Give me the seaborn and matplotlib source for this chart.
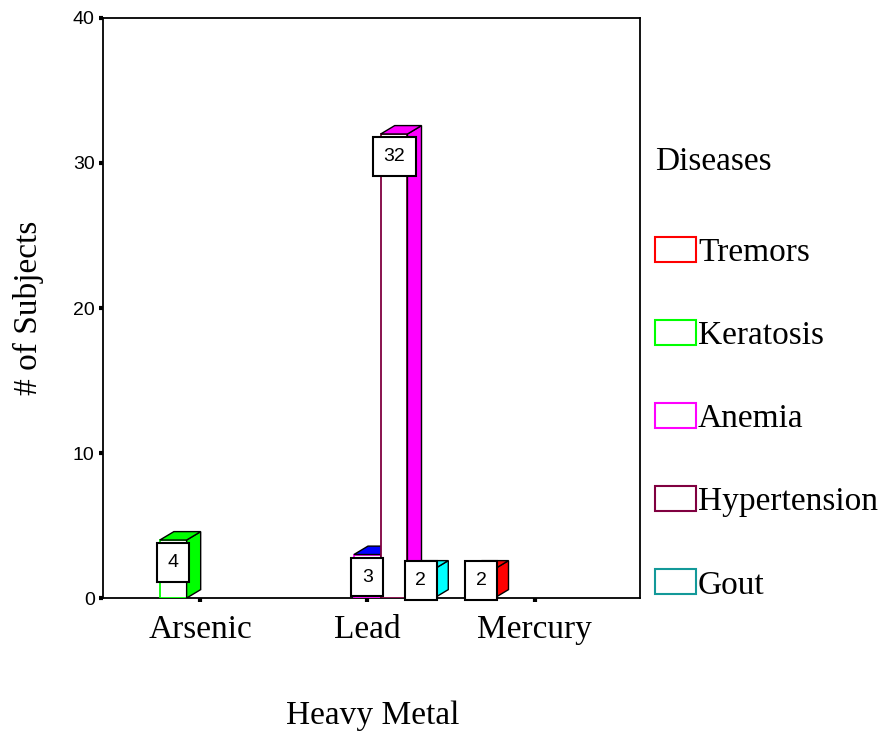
import matplotlib
matplotlib.use("Agg")
import matplotlib.pyplot as plt
import seaborn as sns
import pandas as pd
from matplotlib.patches import Polygon, Patch
from matplotlib.colors import to_hex

# categories
metals = ["Arsenic", "Lead", "Mercury"]
diseases = ["Tremors", "Keratosis", "Anemia", "Hypertension", "Gout"]

# observed combinations (metal, disease, count)
bar_metal = ["Arsenic", "Lead", "Lead", "Lead", "Mercury"]
bar_disease = ["Keratosis", "Anemia", "Hypertension", "Gout", "Tremors"]
bar_count = [4, 3, 32, 2, 2]

# front outline colours (legend) and shaded side colours of the 3D bars
edge_colors = ["#ff0000", "#00ff00", "#ff00ff", "#800040", "#139999"]
side_colors = ["#ff0000", "#00ff00", "#0000ff", "#ff00ff", "#00ffff"]

df = pd.DataFrame({"Heavy Metal": bar_metal, "Diseases": bar_disease, "Count": bar_count})

sns.set_style("ticks")
plt.rcParams["font.family"] = ["Liberation Serif", "DejaVu Serif"]
plt.rcParams["text.color"] = "black"
plt.rcParams["axes.labelcolor"] = "black"
plt.rcParams["xtick.color"] = "black"
plt.rcParams["ytick.color"] = "black"

fig = plt.figure(figsize=(8.9, 7.31), dpi=100)
ax = fig.add_axes([0.1157, 0.1819, 0.6034, 0.7935])

sns.barplot(data=df, x="Heavy Metal", y="Count", hue="Diseases",
            order=metals, hue_order=diseases,
            palette=dict(zip(diseases, edge_colors)), saturation=1,
            width=0.8, errorbar=None, legend=False, ax=ax)

ax.set_xlim(-0.58, 2.63)
ax.set_ylim(0, 40)
ax.set_yticks([0, 10, 20, 30, 40])

# depth of the pseudo-3D effect (data units)
dx, dy = 0.084, 0.58

bars = sorted(ax.patches, key=lambda p: p.get_x())
for i, p in enumerate(bars):
    x0, w, h = p.get_x(), p.get_width(), p.get_height()
    idx = edge_colors.index(to_hex(p.get_facecolor()))
    z = 3 + i
    p.set_facecolor("white")
    p.set_edgecolor(edge_colors[idx])
    p.set_linewidth(1.3)
    p.set_zorder(z)
    side = Polygon([(x0 + w, 0), (x0 + w + dx, dy), (x0 + w + dx, h + dy), (x0 + w, h)],
                   closed=True, facecolor=side_colors[idx], edgecolor="black", lw=1, zorder=z)
    top = Polygon([(x0, h), (x0 + dx, h + dy), (x0 + w + dx, h + dy), (x0 + w, h)],
                  closed=True, facecolor=side_colors[idx], edgecolor="black", lw=1, zorder=z)
    ax.add_patch(side)
    ax.add_patch(top)
    ax.text(x0 + w / 2, max(h - 1.55, 1.2), f"{h:g}", ha="center", va="center",
            fontsize=14, family=["Liberation Sans"], zorder=20,
            bbox=dict(boxstyle="square,pad=0.55", fc="white", ec="black", lw=1.5))

for s in ax.spines.values():
    s.set_visible(True)
    s.set_color("black")
    s.set_linewidth(1.3)

ax.tick_params(axis="y", length=3, width=3, pad=3, labelsize=14, left=True)
ax.tick_params(axis="x", length=3, width=3, pad=8.5, labelsize=24, bottom=True)
for lbl in ax.get_yticklabels():
    lbl.set_family(["Liberation Sans"])

ax.set_xlabel("Heavy Metal", fontsize=24)
ax.xaxis.set_label_coords(0.503, -0.177)
ax.set_ylabel("# of Subjects", fontsize=24)
ax.yaxis.set_label_coords(-0.109, 0.5)

handles = [Patch(facecolor="white", edgecolor=c, linewidth=1.5, label=d)
           for d, c in zip(diseases, edge_colors)]
leg = ax.legend(handles=handles, title="Diseases", loc="upper left",
                bbox_to_anchor=(655 / 890, 1 - 146 / 731), bbox_transform=fig.transFigure,
                frameon=False, fontsize=24, title_fontsize=24, alignment="left",
                handlelength=1.23, handleheight=0.78, handletextpad=0.06,
                labelspacing=1.56, borderpad=0, borderaxespad=0)
# a bit more room between the title and the first entry
leg._legend_box.sep = leg._legend_box.sep + 6

fig.savefig("out.png", dpi=100)
